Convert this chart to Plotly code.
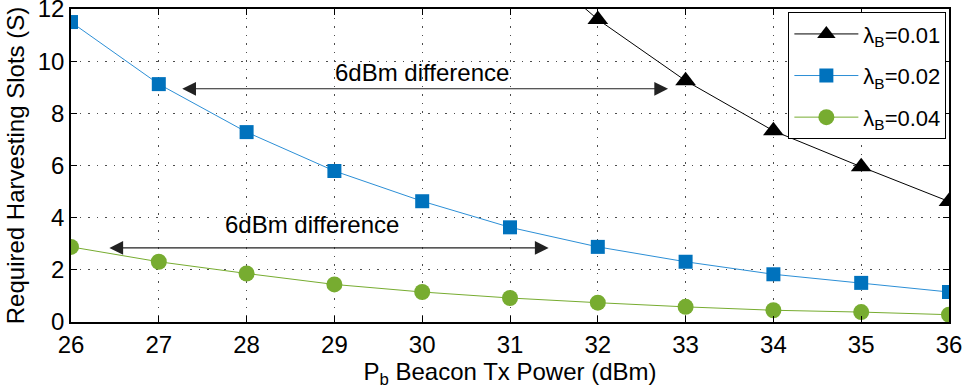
import plotly.graph_objects as go

# ---- data ----
power_dbm = [26, 27, 28, 29, 30, 31, 32, 33, 34, 35, 36]
slots_lambda_001 = [46.0, 36.5, 29.1, 23.2, 18.5, 14.5, 11.6, 9.25, 7.33, 5.95, 4.62]
slots_lambda_002 = [11.5, 9.12, 7.28, 5.79, 4.63, 3.63, 2.88, 2.31, 1.83, 1.50, 1.15]
slots_lambda_004 = [2.88, 2.31, 1.86, 1.44, 1.15, 0.92, 0.74, 0.58, 0.45, 0.38, 0.28]
series_names = ["λ<sub>B</sub>=0.01", "λ<sub>B</sub>=0.02", "λ<sub>B</sub>=0.04"]
x_ticks = [26, 27, 28, 29, 30, 31, 32, 33, 34, 35, 36]
y_ticks = [0, 2, 4, 6, 8, 10, 12]

FONT = "Liberation Sans, Arial, Helvetica, sans-serif"

fig = go.Figure()
styles = [
    dict(color="#000000", line="#000000", symbol="triangle-up", size=18),
    dict(color="#0072BD", line="#2C8FD6", symbol="square", size=14),
    dict(color="#77AC30", line="#77AC30", symbol="circle", size=16),
]
for i, (vals, name, st) in enumerate(zip([slots_lambda_001, slots_lambda_002, slots_lambda_004],
                                          series_names, styles)):
    fig.add_trace(go.Scatter(
        x=power_dbm, y=vals, name=name, mode="lines+markers",
        line=dict(color=st["line"], width=1),
        marker=dict(symbol=st["symbol"], size=st["size"], color=st["color"],
                    line=dict(width=0)),
        legendgroup=f"g{i}",
        cliponaxis=True,
    ))

axis_common = dict(
    showline=True, linecolor="black", linewidth=1.5, mirror="ticks",
    ticks="inside", ticklen=6, tickcolor="black", tickwidth=1,
    showgrid=True, gridcolor="rgba(0,0,0,0.7)", griddash="1.5px,7px", gridwidth=1,
    zeroline=False, automargin=False, ticklabeloverflow="allow",
    tickfont=dict(family=FONT, size=24, color="black"),
)

fig.update_xaxes(range=[26, 36], tickvals=x_ticks, **axis_common,
                 title=dict(text="P<sub>b</sub> Beacon Tx Power (dBm)",
                            font=dict(family=FONT, size=24, color="black"), standoff=4))
fig.update_yaxes(range=[0, 12], tickvals=y_ticks, **axis_common,
                 title=dict(text="Required Harvesting Slots (S)",
                            font=dict(family=FONT, size=24, color="black"), standoff=6))

arrow_style = dict(showarrow=True, text="", axref="x", ayref="y", xref="x", yref="y",
                   arrowside="end+start", arrowhead=2, arrowsize=2.5, arrowwidth=1.1,
                   arrowcolor="#222222")
fig.add_annotation(x=32.8, y=8.94, ax=27.25, ay=8.94, **arrow_style)
fig.add_annotation(x=31.44, y=2.84, ax=26.42, ay=2.84, **arrow_style)
fig.add_annotation(x=30.0, y=9.57, text="6dBm difference", showarrow=False,
                   font=dict(family=FONT, size=24, color="black"))
fig.add_annotation(x=28.74, y=3.75, text="6dBm difference", showarrow=False,
                   font=dict(family=FONT, size=24, color="black"))

fig.update_layout(
    width=969, height=392,
    margin=dict(l=71, r=20, t=9, b=70),
    paper_bgcolor="white", plot_bgcolor="white",
    showlegend=True,
    legend=dict(x=0.997, y=0.99, xanchor="right", yanchor="top",
                bgcolor="white", bordercolor="black", borderwidth=1,
                font=dict(family=FONT, size=22, color="black"),
                itemwidth=64, traceorder="grouped", tracegroupgap=10),
)

fig.write_html("out.html", config={"displayModeBar": False},
               post_script="document.body.style.margin='0';document.body.style.overflow='hidden';")
